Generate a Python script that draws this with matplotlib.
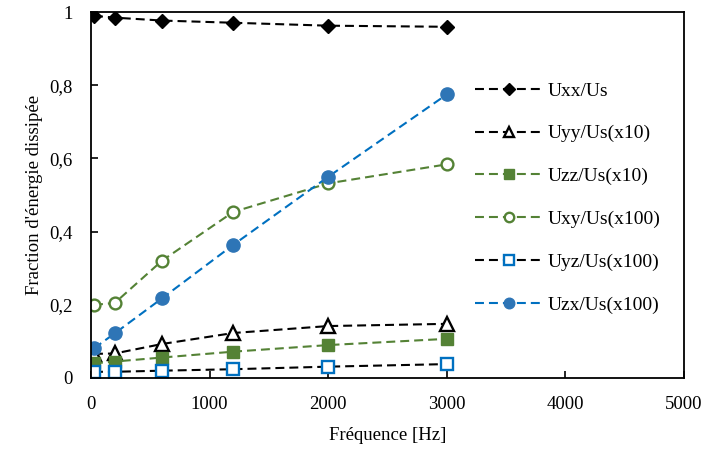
import matplotlib as mpl
mpl.use('agg')
import matplotlib.pyplot as plt
from matplotlib.ticker import FuncFormatter

# Data
freq = [25, 200, 600, 1200, 2000, 3000]
uxx = [0.990, 0.985, 0.977, 0.971, 0.963, 0.960]
uyy = [0.066, 0.067, 0.093, 0.123, 0.142, 0.148]
uzz = [0.040, 0.045, 0.056, 0.072, 0.090, 0.107]
uxy = [0.200, 0.205, 0.321, 0.454, 0.532, 0.584]
uyz = [0.017, 0.017, 0.020, 0.024, 0.031, 0.038]
uzx = [0.081, 0.122, 0.218, 0.364, 0.550, 0.775]

labels = ['Uxx/Us', 'Uyy/Us(x10)', 'Uzz/Us(x10)',
          'Uxy/Us(x100)', 'Uyz/Us(x100)', 'Uzx/Us(x100)']

green = '#548235'
blue = '#0070C0'
blue_fill = '#2E75B6'

plt.rcParams['font.family'] = ['Liberation Serif', 'DejaVu Serif']
plt.rcParams['font.size'] = 13

fig = plt.figure(figsize=(7.11, 4.5), dpi=100)
ax = fig.add_axes([0.128, 0.16, 0.834, 0.813])

dash = (4.3, 2.4)
lw = 1.5
ax.plot(freq, uxx, color='black', ls='--', dashes=dash, lw=lw, marker='D',
        ms=7.5, mfc='black', mec='black', label=labels[0])
ax.plot(freq, uyy, color='black', ls='--', dashes=dash, lw=lw, marker='^',
        ms=9.5, mfc='white', mec='black', mew=1.7, label=labels[1])
ax.plot(freq, uzz, color=green, ls='--', dashes=dash, lw=lw, marker='s',
        ms=8.5, mfc=green, mec=green, label=labels[2])
ax.plot(freq, uxy, color=green, ls='--', dashes=dash, lw=lw, marker='o',
        ms=8.5, mfc='white', mec=green, mew=1.7, label=labels[3])
ax.plot(freq, uyz, color='black', ls='--', dashes=dash, lw=lw, marker='s',
        ms=8.5, mfc='white', mec=blue, mew=1.7, label=labels[4])
ax.plot(freq, uzx, color=blue, ls='--', dashes=dash, lw=lw, marker='o',
        ms=9.5, mfc=blue_fill, mec=blue_fill, label=labels[5])

ax.set_xlim(0, 5000)
ax.set_ylim(0, 1)
ax.set_xticks([0, 1000, 2000, 3000, 4000, 5000])
ax.set_yticks([0, 0.2, 0.4, 0.6, 0.8, 1.0])
ax.yaxis.set_major_formatter(FuncFormatter(
    lambda v, p: ('%g' % round(v, 1)).replace('.', ',')))
ax.tick_params(direction='in', length=5, width=1.2, colors='black',
               pad=13, labelsize=13.5)
for s in ax.spines.values():
    s.set_linewidth(1.3)

ax.set_xlabel('Fréquence [Hz]', labelpad=10, fontsize=13.5)
ax.set_ylabel("Fraction d'énergie dissipée", labelpad=5, fontsize=13.5)

ax.legend(loc='upper left', bbox_to_anchor=(0.634, 0.83), frameon=False,
          fontsize=14, handlelength=3.5, labelspacing=1.29,
          handletextpad=0.26, borderaxespad=0, markerscale=0.8)

fig.savefig('out.png', dpi=100)
